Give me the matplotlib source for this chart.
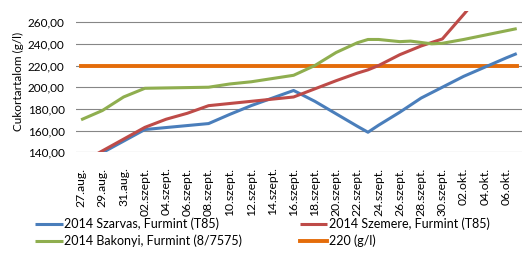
import matplotlib
matplotlib.use("Agg")
import matplotlib.pyplot as plt
import numpy as np

# category axis: one category per day, 27 Aug .. 7 Oct 2014
first_day = "2014-08-27"
n_days = 42
tick_labels = ["27.aug.", "29.aug.", "31.aug.", "02.szept.", "04.szept.", "06.szept.",
               "08.szept.", "10.szept.", "12.szept.", "14.szept.", "16.szept.", "18.szept.",
               "20.szept.", "22.szept.", "24.szept.", "26.szept.", "28.szept.", "30.szept.",
               "02.okt.", "04.okt.", "06.okt."]

szarvas_dates = ["2014-08-27", "2014-09-02", "2014-09-08", "2014-09-10", "2014-09-12",
                 "2014-09-14", "2014-09-16", "2014-09-18", "2014-09-20", "2014-09-22",
                 "2014-09-23", "2014-09-24", "2014-09-26", "2014-09-28", "2014-09-30",
                 "2014-10-02", "2014-10-04", "2014-10-06", "2014-10-07"]
szarvas_vals = [129, 161, 166.5, 175, 183, 190, 197, 187, 175.5, 164,
                158.5, 165, 177, 190, 200, 210, 218.5, 227, 231]

szemere_dates = ["2014-08-27", "2014-09-02", "2014-09-04", "2014-09-06", "2014-09-08",
                 "2014-09-10", "2014-09-12", "2014-09-14", "2014-09-16", "2014-09-18",
                 "2014-09-20", "2014-09-22", "2014-09-23", "2014-09-24", "2014-09-26",
                 "2014-09-28", "2014-09-30", "2014-10-02", "2014-10-04"]
szemere_vals = [130.5, 163, 170.5, 176, 183, 185, 187, 189, 191, 198.5,
                206, 213, 216, 220, 230, 238, 244.5, 267, 290]

bakonyi_dates = ["2014-08-27", "2014-08-29", "2014-08-31", "2014-09-02", "2014-09-08",
                 "2014-09-10", "2014-09-12", "2014-09-14", "2014-09-16", "2014-09-18",
                 "2014-09-20", "2014-09-22", "2014-09-23", "2014-09-24", "2014-09-26",
                 "2014-09-27", "2014-09-29", "2014-09-30", "2014-10-02", "2014-10-04",
                 "2014-10-06", "2014-10-07"]
bakonyi_vals = [170, 178.5, 191, 199, 200, 203, 205, 208, 211, 220,
                232, 241, 244, 244, 242, 242.5, 240, 240.5, 244, 248,
                252, 254]

limit_val = 220

series = [
    ("2014 Szarvas, Furmint (T85)", szarvas_dates, szarvas_vals, "#4A7EBB"),
    ("2014 Szemere, Furmint (T85)", szemere_dates, szemere_vals, "#BE4B48"),
    ("2014 Bakonyi, Furmint (8/7575)", bakonyi_dates, bakonyi_vals, "#8FAE4F"),
]


def day_index(dates):
    d = np.array(dates, dtype="datetime64[D]")
    return (d - np.datetime64(first_day)).astype(int)


plt.rcParams["font.family"] = ["Lato", "DejaVu Sans"]

fig = plt.figure(figsize=(5.30, 2.56), dpi=100)
ax = fig.add_axes([0.143, 0.405, 0.842, 0.551])

for y in range(140, 261, 20):
    ax.axhline(y, color="#868686", lw=0.8, zorder=1)

lines = {}
for name, dates, vals, col in series:
    (ln,) = ax.plot(day_index(dates), vals, color=col, lw=2.2, zorder=3,
                    solid_capstyle="butt", solid_joinstyle="round")
    lines[name] = ln

days = np.arange(n_days)
(lim_ln,) = ax.plot(days, np.full(n_days, limit_val), color="#E46C0A", lw=2.8, zorder=2)

ax.set_xlim(-0.5, n_days - 0.5)
ax.set_ylim(140, 270)
ax.set_yticks(range(140, 261, 20))
ax.set_yticklabels([f"{v},00" for v in range(140, 261, 20)], fontsize=8.5)
ax.set_xticks(np.arange(0, n_days, 2)[:len(tick_labels)])
ax.set_xticklabels(tick_labels, rotation=90, fontsize=8.7, va="top", ha="center")
ax.tick_params(axis="both", length=0)
ax.tick_params(axis="y", pad=8)
ax.tick_params(axis="x", pad=11)
for s in ax.spines.values():
    s.set_visible(False)

ax.set_ylabel("Cukortartalom (g/l)", fontsize=8.5, labelpad=3)

handles = [lines["2014 Szarvas, Furmint (T85)"], lines["2014 Bakonyi, Furmint (8/7575)"],
           lines["2014 Szemere, Furmint (T85)"], lim_ln]
labels = ["2014 Szarvas, Furmint (T85)", "2014 Bakonyi, Furmint (8/7575)",
          "2014 Szemere, Furmint (T85)", "220 (g/l)"]
fig.legend(handles, labels, ncol=2, loc="lower left", bbox_to_anchor=(0.045, -0.01),
           frameon=False, fontsize=9, handlelength=2.2, handletextpad=0.1,
           columnspacing=4.65, labelspacing=0.35)

fig.savefig("out.png", dpi=100, facecolor="white")
